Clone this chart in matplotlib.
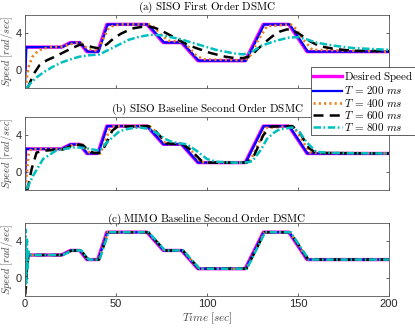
import numpy as np
import matplotlib
matplotlib.use("Agg")
import matplotlib.pyplot as plt

plt.rcParams['mathtext.fontset'] = 'cm'
plt.rcParams['font.family'] = ['Liberation Sans', 'DejaVu Sans']

# desired speed profile
t_des = [0, 0.3, 20, 25, 30, 34, 40, 45, 67, 76, 86, 95, 121, 131, 145, 155, 200]
y_des = [0, 2.5, 2.5, 3, 3, 2, 2, 5, 5, 3, 3, 1, 1, 5, 5, 2, 2]

# (a) SISO first order
t_blue_a = [0, 0.8, 20.5, 25.5, 30.5, 34.5, 40.5, 45.5, 67.5, 76.5, 86.5, 95.5, 121.5, 131.5, 145.5, 155.5, 200]
y_blue_a = [-2, 2.5, 2.5, 3, 3, 2, 2, 5, 5, 3, 3, 1, 1, 5, 5, 2, 2]
t_or_a = [0.5, 1, 2, 4, 7, 10, 15, 20, 24, 28, 31, 34, 37, 40, 43, 46, 49, 53, 68, 71, 75, 79, 87, 90, 94, 98, 121, 124, 128, 133, 146, 149, 153, 158, 200]
y_or_a = [-2, -1, 0.3, 1.4, 2.05, 2.35, 2.5, 2.55, 2.75, 3.0, 2.95, 2.4, 2.15, 2.1, 3.4, 4.6, 4.9, 5.0, 5.0, 4.7, 3.8, 3.2, 3.05, 2.5, 1.6, 1.15, 1.05, 1.6, 3.2, 4.8, 5.0, 4.5, 3.3, 2.2, 2.0]
t_bk_a = [1.5, 3, 5, 8, 12, 16, 20, 25, 30, 33, 37, 41, 45, 49, 53, 59, 64, 69, 73, 78, 83, 89, 94, 97, 102, 110, 115, 120, 124, 128, 133, 136, 140, 144, 147, 152, 157, 162, 170, 180, 200]
y_bk_a = [-2, -1.3, -0.4, 0.5, 1.05, 1.4, 1.8, 2.3, 2.75, 2.75, 2.5, 2.35, 2.8, 3.5, 4.0, 4.55, 4.72, 4.75, 4.5, 4.0, 3.45, 2.8, 2.4, 2.2, 1.85, 1.45, 1.3, 1.3, 1.5, 2.3, 3.2, 3.7, 4.2, 4.45, 4.4, 3.8, 3.1, 2.6, 2.3, 2.1, 2.05]
t_cy_a = [1, 3, 6, 10, 15, 20, 25, 30, 35, 41, 46, 52, 57, 63, 69, 75, 80, 85, 90, 95, 100, 105, 110, 115, 120, 125, 130, 135, 140, 145, 150, 155, 160, 170, 180, 190, 200]
y_cy_a = [-2, -1.5, -0.9, -0.3, 0.3, 0.8, 1.15, 1.45, 1.6, 1.7, 2.2, 2.8, 3.3, 3.65, 3.85, 3.8, 3.6, 3.4, 3.1, 2.8, 2.5, 2.2, 2.0, 1.8, 1.7, 2.0, 2.65, 3.0, 3.3, 3.55, 3.6, 3.35, 3.0, 2.65, 2.4, 2.3, 2.2]

# (b) SISO baseline second order
t_blue_b = [0, 0.5, 20.3, 25.3, 30.3, 34.3, 40.3, 45.3, 67.3, 76.3, 86.3, 95.3, 121.3, 131.3, 145.3, 155.3, 200]
y_blue_b = [-2, 2.5, 2.5, 3, 3, 2, 2, 5, 5, 3, 3, 1, 1, 5, 5, 2, 2]
t_or_b = [0.3, 1, 2, 3.5, 21, 26.5, 31.5, 35.5, 41.5, 46.5, 49, 68, 70, 77.5, 87.5, 89.5, 96.5, 122, 124, 132.5, 146.5, 148.5, 156.5, 200]
y_or_b = [-1.7, -0.3, 1.9, 2.5, 2.5, 2.95, 3, 2.1, 2.0, 4.6, 5.0, 5.0, 4.8, 3.05, 3.0, 2.8, 1.05, 1.0, 1.3, 4.8, 5.0, 4.7, 2.1, 2.0]
t_bk_b = [0.5, 1.5, 3.7, 6.4, 10, 21, 24, 28, 32, 35, 38, 42, 45, 48, 51, 68, 72, 78, 87, 91, 97, 100, 122, 126, 131, 135, 147, 151, 156, 160, 200]
y_bk_b = [-1.8, -1.9, 0.3, 2.1, 2.3, 2.45, 2.7, 2.95, 2.9, 2.3, 2.05, 2.1, 3.2, 4.5, 4.95, 5.0, 4.4, 3.1, 3.0, 2.4, 1.2, 1.0, 1.0, 1.8, 4.0, 4.95, 5.0, 4.3, 2.6, 2.05, 2.0]
t_cy_b = [1, 4.6, 10, 17, 22, 28, 36, 41, 45, 52, 58, 63, 68, 72, 77, 81, 89, 95, 100, 105, 115, 121, 125, 130, 133, 137, 140, 147, 151, 155, 160, 165, 173, 200]
y_cy_b = [-1.9, -0.4, 1.4, 2.3, 2.5, 2.7, 2.5, 2.3, 3.2, 4.45, 4.75, 4.85, 4.7, 4.3, 3.6, 3.25, 3.0, 2.2, 1.4, 1.1, 1.0, 1.0, 1.15, 2.5, 3.6, 4.3, 4.65, 4.85, 4.3, 3.2, 2.2, 2.1, 2.05, 2.0]

# (c) MIMO baseline second order
t_blue_c = [0, 0.4, 20.3, 25.3, 30.3, 34.3, 40.3, 45.3, 67.3, 76.3, 86.3, 95.3, 121.3, 131.3, 145.3, 155.3, 200]
y_blue_c = [-1.2, 2.5, 2.5, 3, 3, 2, 2, 5, 5, 3, 3, 1, 1, 5, 5, 2, 2]
t_or_c = [0, 0.6, 1.2, 1.8, 20.6, 25.6, 30.6, 34.6, 40.6, 45.6, 67.6, 76.6, 86.6, 95.6, 121.6, 131.6, 145.6, 155.6, 200]
y_or_c = [-2.3, -1.2, 1.5, 2.5, 2.5, 3, 3, 2, 2, 5, 5, 3, 3, 1, 1, 5, 5, 2, 2]
t_bk_c = [0, 0.5, 1.2, 2.0, 20.8, 25.8, 30.8, 34.8, 40.8, 45.8, 67.8, 76.8, 86.8, 95.8, 121.8, 131.8, 145.8, 155.8, 200]
y_bk_c = [-2.0, -1.0, 1.2, 2.5, 2.5, 3, 3, 2, 2, 5, 5, 3, 3, 1, 1, 5, 5, 2, 2]
t_cy_c = [0, 0.3, 0.7, 1.1, 1.5, 2.0, 2.6, 21, 26, 31, 35, 41, 46, 68, 77, 87, 96, 122, 132, 146, 156, 200]
y_cy_c = [0.2, 5.3, -0.6, 4.2, 1.0, 2.9, 2.5, 2.5, 3, 3, 2, 2, 5, 5, 3, 3, 1, 1, 5, 5, 2, 2]

titles = [r'$\mathrm{(a)\ SISO\ First\ Order\ DSMC}$',
          r'$\mathrm{(b)\ SISO\ Baseline\ Second\ Order\ DSMC}$',
          r'$\mathrm{(c)\ MIMO\ Baseline\ Second\ Order\ DSMC}$']
labels = [r'$\mathrm{Desired\ Speed}$', r'$T\,=\,200\ ms$', r'$T\,=\,400\ ms$',
          r'$T\,=\,600\ ms$', r'$T\,=\,800\ ms$']

panels = [
    (t_blue_a, y_blue_a, t_or_a, y_or_a, t_bk_a, y_bk_a, t_cy_a, y_cy_a),
    (t_blue_b, y_blue_b, t_or_b, y_or_b, t_bk_b, y_bk_b, t_cy_b, y_cy_b),
    (t_blue_c, y_blue_c, t_or_c, y_or_c, t_bk_c, y_bk_c, t_cy_c, y_cy_c),
]

fig = plt.figure(figsize=(4.15, 3.29), dpi=100)
rects = [[0.060, 0.7325, 0.877, 0.221],
         [0.060, 0.4225, 0.877, 0.222],
         [0.060, 0.100, 0.877, 0.222]]

gray = '#262626'
handles = []
for i, (rect, data) in enumerate(zip(rects, panels)):
    ax = fig.add_axes(rect)
    tb, yb, to, yo, tk, yk, tc, yc = data
    h0, = ax.plot(t_des, y_des, color='#FF00FF', lw=2.4)
    h1, = ax.plot(tb, yb, color='#0000FF', lw=1.6)
    h2, = ax.plot(to, yo, color='#E8801A', lw=1.9, ls=(0, (0.8, 1.2)))
    h3, = ax.plot(tk, yk, color='black', lw=1.8, ls=(0, (4, 2.5)))
    h4, = ax.plot(tc, yc, color='#00BFBF', lw=1.8, ls=(0, (3, 1.0, 0.7, 1.0)))
    if i == 0:
        handles = [h0, h1, h2, h3, h4]
    ax.set_xlim(0, 200)
    ax.set_ylim(-2, 6)
    ax.set_xticks([0, 50, 100, 150, 200])
    ax.set_yticks([0, 4])
    ax.tick_params(direction='in', length=2.5, width=0.5, top=True, right=True,
                   labelsize=8, colors=gray, pad=2)
    if i < 2:
        ax.tick_params(labelbottom=False)
    for s in ax.spines.values():
        s.set_linewidth(0.6)
        s.set_color('#555555')
    ax.set_title(titles[i], fontsize=8, pad=1.2)
    ax.set_ylabel(r'$Speed\ [rad/sec]$', fontsize=7.5, color='#444444')
    ax.yaxis.set_label_coords(-0.027, 0.5)
    if i == 2:
        ax.set_xlabel(r'$Time\ [sec]$', fontsize=8, color='#444444', labelpad=1)

leg = fig.legend(handles, labels, loc='upper left', bbox_to_anchor=(311 / 415, 1 - 67 / 329),
                 fontsize=8, frameon=True, fancybox=False, framealpha=1, edgecolor='#444444',
                 handlelength=2.6, handletextpad=0.15, labelspacing=0.02, borderpad=0.2,
                 borderaxespad=0)
leg.get_frame().set_linewidth(0.6)

fig.savefig('out.png', dpi=100)
